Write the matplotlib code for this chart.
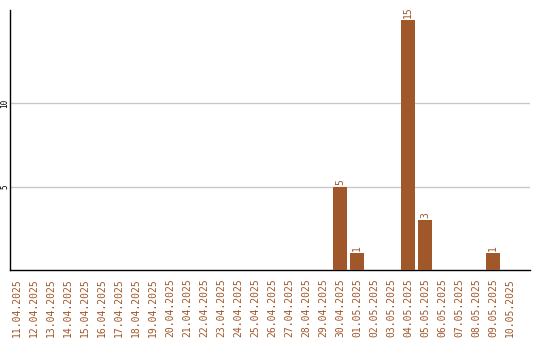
import matplotlib
matplotlib.use('Agg')
import matplotlib.pyplot as plt

# Data
dates = ['11.04.2025', '12.04.2025', '13.04.2025', '14.04.2025', '15.04.2025',
         '16.04.2025', '17.04.2025', '18.04.2025', '19.04.2025', '20.04.2025',
         '21.04.2025', '22.04.2025', '23.04.2025', '24.04.2025', '25.04.2025',
         '26.04.2025', '27.04.2025', '28.04.2025', '29.04.2025', '30.04.2025',
         '01.05.2025', '02.05.2025', '03.05.2025', '04.05.2025', '05.05.2025',
         '06.05.2025', '07.05.2025', '08.05.2025', '09.05.2025', '10.05.2025']
counts = [0, 0, 0, 0, 0, 0, 0, 0, 0, 0,
          0, 0, 0, 0, 0, 0, 0, 0, 0, 5,
          1, 0, 0, 15, 3, 0, 0, 0, 1, 0]
y_ticks = [5, 10]

bar_color = '#a0572a'
plt.rcParams['font.family'] = ['DejaVu Sans Mono']

fig = plt.figure(figsize=(5.4, 3.4), dpi=100)
ax = fig.add_axes([10 / 540, 1 - 270 / 340, 520 / 540, 260 / 340])

x = list(range(len(dates)))
bars = ax.bar(x, counts, width=0.82, color=bar_color, zorder=3)

# value labels
for xi, v in zip(x, counts):
    if v > 0:
        ax.text(xi, v + 0.12, str(v), rotation=90, ha='center', va='bottom',
                fontsize=7, color=bar_color)

ax.set_xlim(-0.41, 30.18)
ax.set_ylim(0, 15.6)

ax.set_xticks(x)
ax.set_xticklabels(dates, rotation=90, fontsize=7, color=bar_color)
ax.set_yticks(y_ticks)
ax.set_yticklabels([str(t) for t in y_ticks], rotation=90, fontsize=5.5, va='center')
ax.tick_params(axis='both', length=0)
ax.tick_params(axis='x', pad=6)
ax.tick_params(axis='y', pad=0.5)

ax.yaxis.grid(True, color='#c8c8c8', linewidth=1)
ax.set_axisbelow(True)
for s in ['top', 'right']:
    ax.spines[s].set_visible(False)
ax.spines['left'].set_linewidth(1.0)
ax.spines['bottom'].set_linewidth(1.0)

fig.savefig('out.png', dpi=100)
